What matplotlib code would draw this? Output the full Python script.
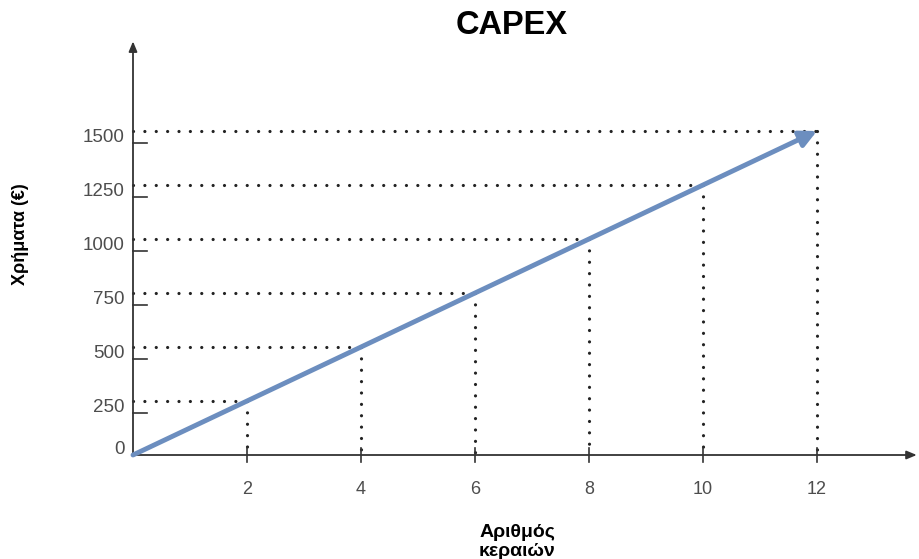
import matplotlib
matplotlib.use("Agg")
import matplotlib.pyplot as plt

plt.rcParams['font.family'] = ['Liberation Sans', 'DejaVu Sans']

title = "CAPEX"
x_label = "Αριθμός\nκεραιών"
y_label = "Χρήματα (€)"
x_ticks = [2, 4, 6, 8, 10, 12]
y_levels = [250, 500, 750, 1000, 1250, 1500]
y_tick_labels = ["0", "250", "500", "750", "1000", "1250", "1500"]
y_tick_values = [0, 250, 500, 750, 1000, 1250, 1500]
line_x = [0, 12]
line_y = [0, 1500]

W, H = 920, 559
fig = plt.figure(figsize=(W / 100, H / 100), dpi=100)
ax = fig.add_axes([0, 0, 1, 1])
ax.set_axis_off()

# pixel mapping: x=0 -> px 133, 57 px per unit ; y=0 -> 104 px from bottom
px_per_x = 57.0
px_per_y = 324.0 / 1500.0
ax.set_xlim(-133 / px_per_x, (W - 133) / px_per_x)
ax.set_ylim(-104 / px_per_y, (H - 104) / px_per_y)

axis_col = "#333333"
ax.annotate("", xy=(13.75, 0), xytext=(0, 0),
            arrowprops=dict(arrowstyle="-|>,head_length=0.6,head_width=0.25", color=axis_col, lw=1.3,
                            shrinkA=0, shrinkB=0))
ax.annotate("", xy=(0, 1915), xytext=(0, 0),
            arrowprops=dict(arrowstyle="-|>,head_length=0.6,head_width=0.25", color=axis_col, lw=1.3,
                            shrinkA=0, shrinkB=0))

# dotted guides
dot_style = dict(color="#222222", lw=2.3, linestyle=(0, (0.01, 3.55)), dash_capstyle="round")
for xv, yv in zip(x_ticks, y_levels):
    ax.plot([0, xv], [yv, yv], **dot_style)
    ax.plot([xv, xv], [yv, 0], **dot_style)

tick_col = "#4d4d4d"
for xv in x_ticks:
    ax.plot([xv, xv], [-7 / px_per_y, 7 / px_per_y], color=axis_col, lw=1.2)
    ax.text(xv, -34 / px_per_y, str(xv), ha="center", va="center", fontsize=13, color=tick_col)

for yl, yv in zip(y_tick_labels, y_tick_values):
    if yv > 0:
        ty = yv - 12 / px_per_y
        ax.plot([0, 14 / px_per_x], [ty, ty], color=axis_col, lw=1.2)
        tl = yv - 7 / px_per_y
    else:
        tl = yv + 6 / px_per_y
    ax.text(-8 / px_per_x, tl, yl, ha="right", va="center", fontsize=13.5, color=tick_col)

# main arrow line
ax.annotate("", xy=(line_x[1], line_y[1]), xytext=(line_x[0], line_y[0]),
            arrowprops=dict(arrowstyle="-|>,head_length=1.0,head_width=0.5", color="#6C8EBF", lw=3.5,
                            shrinkA=0, shrinkB=0))

fig.text(512 / W, 1 - 25 / H, title, ha="center", va="center", fontsize=23.5, fontweight="bold")
fig.text(21 / W, 1 - 234 / H, y_label, ha="center", va="center", rotation=90, fontsize=13,
         fontweight="bold")
fig.text(517 / W, 1 - 542 / H, x_label, ha="center", va="center", fontsize=14, fontweight="bold",
         linespacing=1.15)

fig.savefig("out.png", dpi=100)
